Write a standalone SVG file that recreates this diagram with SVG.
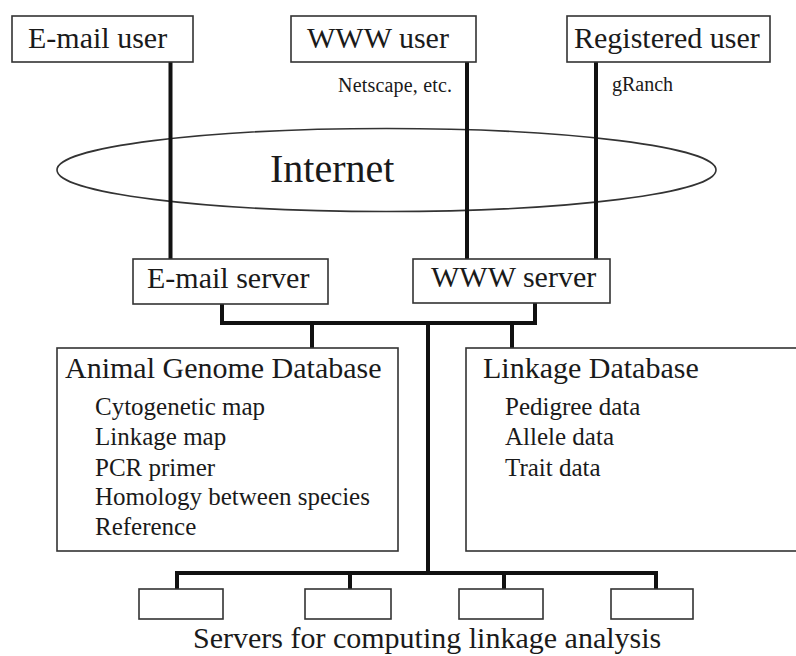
<svg xmlns="http://www.w3.org/2000/svg" width="796" height="656" viewBox="0 0 796 656">
<style>
.box{fill:#fff;stroke:#333;stroke-width:1.6}
.t{font-family:"Liberation Serif","Times New Roman",serif;fill:#1a1a1a}
.t30{font-size:30px}
.t25{font-size:25px}
.t19{font-size:20px}
.t40{font-size:40px}
.conn{fill:none;stroke:#111;stroke-width:4;stroke-linejoin:miter}
</style>
<rect width="796" height="656" fill="#fff"/>
<g id="internet">
<ellipse cx="386.5" cy="170" rx="329.5" ry="41.5" fill="none" stroke="#333" stroke-width="1.6"/>
<text class="t t40" x="270" y="182">Internet</text>
</g>
<g id="connectors">
<path class="conn" d="M170.5 62V259"/>
<path class="conn" d="M467 62V259"/>
<path class="conn" d="M596 62V259"/>
<path class="conn" d="M222 304V323H535V303"/>
<path class="conn" d="M312 323V348"/>
<path class="conn" d="M512 323V348"/>
<path class="conn" d="M428 323V573"/>
<path class="conn" d="M177 589V573H656V589"/>
<path class="conn" d="M350 573V589"/>
<path class="conn" d="M504 573V589"/>
</g>
<g id="email-user">
<rect class="box" x="12" y="16" width="181" height="46"/>
<text class="t t30" x="28" y="48">E-mail user</text>
</g>
<g id="www-user">
<rect class="box" x="291" y="16" width="185" height="46"/>
<text class="t t30" x="307" y="48">WWW user</text>
<text class="t t19" x="338" y="92" textLength="114">Netscape, etc.</text>
</g>
<g id="registered-user">
<rect class="box" x="567" y="16" width="203" height="46"/>
<text class="t t30" x="574" y="48">Registered user</text>
<text class="t t19" x="612" y="91">gRanch</text>
</g>
<g id="email-server">
<rect class="box" x="133" y="259" width="195" height="45"/>
<text class="t t30" x="147" y="288">E-mail server</text>
</g>
<g id="www-server">
<rect class="box" x="413" y="259" width="197" height="44"/>
<text class="t t30" x="431" y="287">WWW server</text>
</g>
<g id="animal-genome-db">
<rect class="box" x="57" y="348" width="341" height="203"/>
<text class="t t30" x="65" y="378">Animal Genome Database</text>
<text class="t t25" x="95" y="415">Cytogenetic map</text>
<text class="t t25" x="95" y="445">Linkage map</text>
<text class="t t25" x="95" y="476">PCR primer</text>
<text class="t t25" x="95" y="505">Homology between species</text>
<text class="t t25" x="95" y="535">Reference</text>
</g>
<g id="linkage-db">
<rect class="box" x="466" y="348" width="340" height="203"/>
<text class="t t30" x="483" y="378">Linkage Database</text>
<text class="t t25" x="505" y="415">Pedigree data</text>
<text class="t t25" x="505" y="445">Allele data</text>
<text class="t t25" x="505" y="476">Trait data</text>
</g>
<g id="compute-servers">
<rect class="box" x="139" y="589" width="84" height="30"/>
<rect class="box" x="305" y="589" width="86" height="30"/>
<rect class="box" x="459" y="589" width="84" height="30"/>
<rect class="box" x="611" y="589" width="82" height="30"/>
<text class="t t30" x="193" y="648">Servers for computing linkage analysis</text>
</g>
</svg>
